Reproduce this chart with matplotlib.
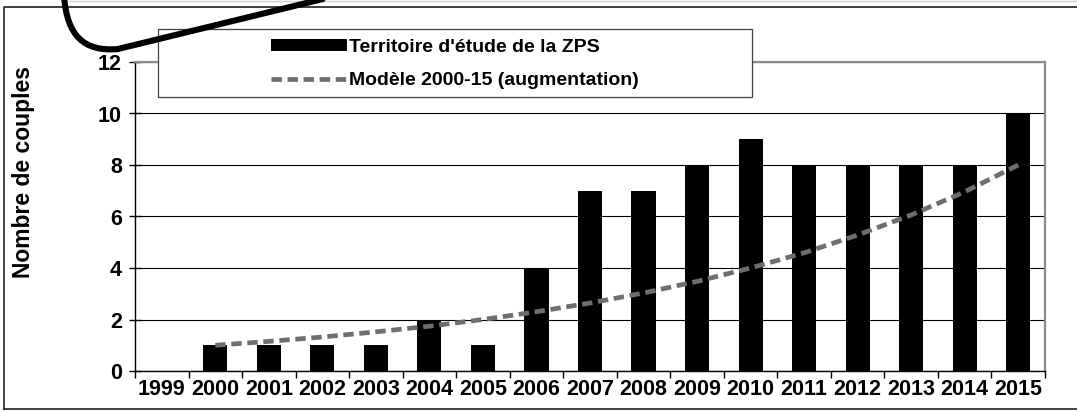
import matplotlib
matplotlib.use("Agg")
import matplotlib.pyplot as plt
import numpy as np
from matplotlib.patches import Rectangle, PathPatch
from matplotlib.path import Path
from matplotlib.lines import Line2D

# データ
years = ["1999", "2000", "2001", "2002", "2003", "2004", "2005", "2006", "2007",
         "2008", "2009", "2010", "2011", "2012", "2013", "2014", "2015"]
couples = [0, 1, 1, 1, 1, 2, 1, 4, 7, 7, 8, 9, 8, 8, 8, 8, 10]
model_years = ["2000", "2001", "2002", "2003", "2004", "2005", "2006", "2007",
               "2008", "2009", "2010", "2011", "2012", "2013", "2014", "2015"]
model_values = [1.00, 1.15, 1.32, 1.52, 1.74, 2.00, 2.30, 2.64,
                3.03, 3.48, 4.00, 4.59, 5.28, 6.06, 6.96, 8.00]
yticks = [0, 2, 4, 6, 8, 10, 12]

label_bar = "Territoire d'étude de la ZPS"
label_line = "Modèle 2000-15 (augmentation)"
ylabel = "Nombre de couples"

W, H = 1077, 411
plt.rcParams['font.family'] = ['Liberation Sans', 'DejaVu Sans']
plt.rcParams['font.weight'] = 'bold'

fig = plt.figure(figsize=(W / 100, H / 100), dpi=100)
ax = fig.add_axes([135 / W, 1 - 371 / H, (1045 - 135) / W, (371 - 62) / H])

# 棒グラフ
x = np.arange(len(years))
ax.bar(x, couples, width=0.45, color='black', zorder=3)

# モデル曲線
dash = (0, (2.2, 1.2))
xm = [years.index(y) for y in model_years]
ax.plot(xm, model_values, color='#6e6e6e', lw=3.4, linestyle=dash, zorder=4)

# 軸
ax.set_xlim(-0.5, len(years) - 0.5)
ax.set_ylim(0, 12)
ax.set_yticks(yticks)
ax.set_yticklabels([str(v) for v in yticks], fontsize=15.5, fontweight='bold')
ax.set_xticks(x)
ax.set_xticklabels(years, fontsize=15.5, fontweight='bold')
ax.set_xticks(np.arange(-0.5, len(years)), minor=True)
ax.tick_params(axis='x', which='major', length=0, pad=6)
ax.tick_params(axis='x', which='minor', length=5, width=1, color='black',
               direction='out')
ax.tick_params(axis='y', direction='inout', length=9, width=1, pad=5)
ax.grid(axis='y', color='black', lw=0.8, zorder=0)
ax.set_axisbelow(True)
ax.spines['left'].set_color('black')
ax.spines['bottom'].set_color('black')
ax.spines['left'].set_linewidth(1)
ax.spines['bottom'].set_linewidth(1)
ax.spines['top'].set_color('#8c8c8c')
ax.spines['right'].set_color('#8c8c8c')
ax.spines['top'].set_linewidth(1.6)
ax.spines['right'].set_linewidth(1.6)

fig.text(24 / W, 1 - 172 / H, ylabel, rotation=90, ha='center', va='center',
         fontsize=16.5, fontweight='bold')

# 凡例の枠
fig.add_artist(Rectangle((158 / W, 1 - 97 / H), (752 - 158) / W, (97 - 29) / H,
                         transform=fig.transFigure, facecolor='white',
                         edgecolor='#404040', lw=0.9, zorder=5))
handles = [Rectangle((0, 0), 1, 1, facecolor='black'),
           Line2D([0], [0], color='#6e6e6e', lw=3.4, linestyle=dash)]
leg = fig.legend(handles, [label_bar, label_line], loc='center left',
                 bbox_to_anchor=(271 / W, 1 - 64 / H), frameon=False,
                 prop={'weight': 'bold', 'size': 14},
                 handlelength=3.9, handleheight=0.57, handletextpad=0.12,
                 borderpad=0, borderaxespad=0, labelspacing=0.85)
leg.set_zorder(6)

# 外枠
def px(xp, yp):
    return (xp / W, 1 - yp / H)

fig.add_artist(Line2D([px(70, 1.5)[0], 1], [px(70, 1.5)[1]] * 2,
                      transform=fig.transFigure, color='#d0d0d0', lw=1))
fig.add_artist(Line2D([px(4, 7.5)[0], px(4, 7.5)[0], 1],
                      [px(4, 409)[1], px(4, 7.5)[1], px(4, 7.5)[1]],
                      transform=fig.transFigure, color='#202020', lw=1.2))
fig.add_artist(Line2D([px(4, 409)[0], 1], [px(4, 409)[1]] * 2,
                      transform=fig.transFigure, color='#202020', lw=1.2))

# 吹き出しの線
verts = [px(64, -4), px(67, 36), px(84, 52), px(118, 49), px(335, -4)]
codes = [Path.MOVETO, Path.CURVE4, Path.CURVE4, Path.CURVE4, Path.LINETO]
fig.add_artist(PathPatch(Path(verts, codes), transform=fig.transFigure,
                         facecolor='none', edgecolor='black', lw=4.4,
                         capstyle='round', joinstyle='round', zorder=7))

fig.savefig("out.png", dpi=100)
